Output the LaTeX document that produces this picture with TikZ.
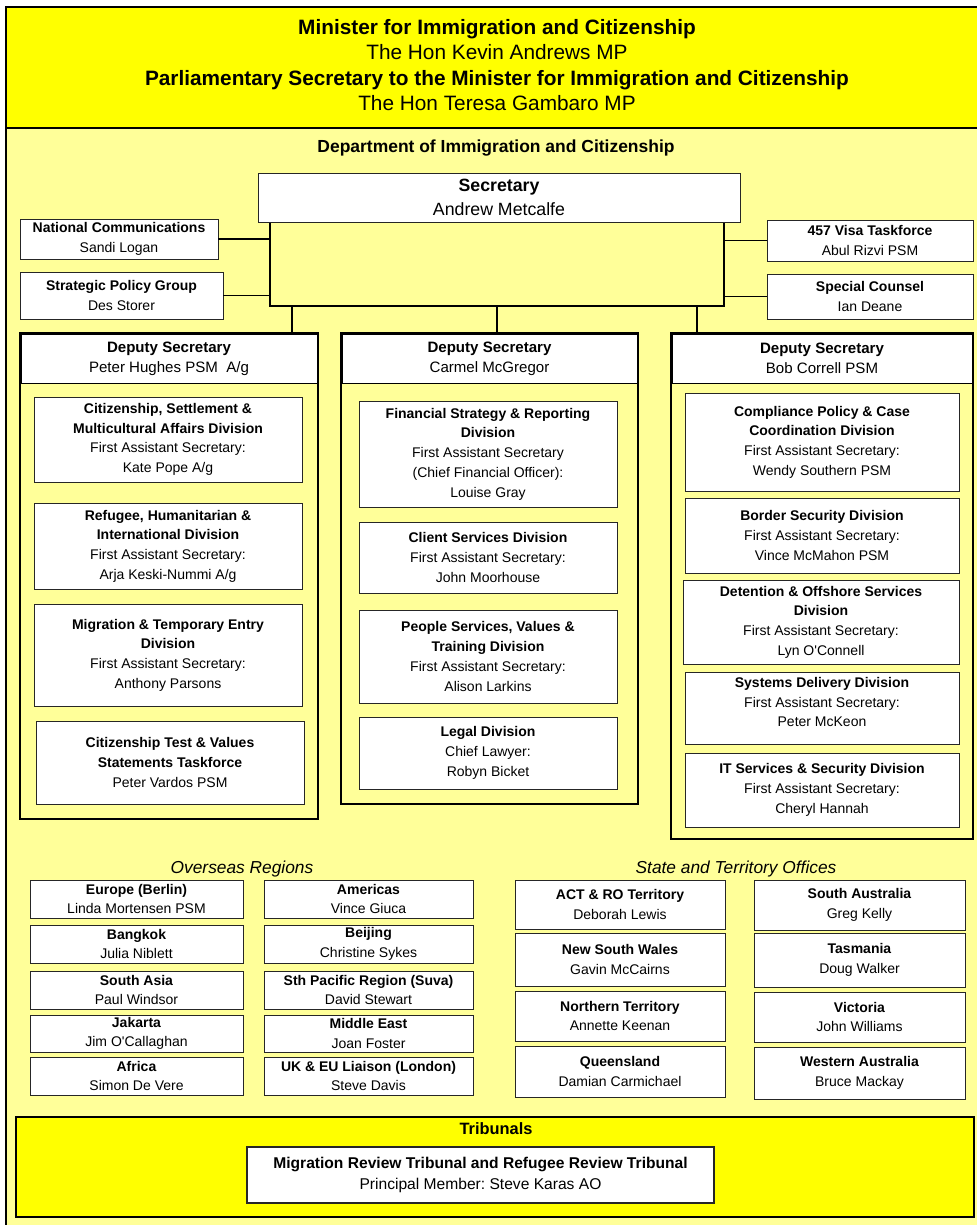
\documentclass[tikz,border=0pt]{standalone}
\usepackage{fontspec}
\setmainfont{Liberation Sans}
\usetikzlibrary{shadows}
\definecolor{hiyellow}{HTML}{FFFF00}
\definecolor{paleyellow}{HTML}{FFFF99}
\frenchspacing

\begin{document}
\begin{tikzpicture}[x=0.75pt, y=-0.75pt,
	every node/.style={inner sep=0pt, outer sep=0pt, align=center},
	dims/.style 2 args={minimum width=#1*0.75pt, minimum height=#2*0.75pt},
	boxshadow/.style={drop shadow={shadow xshift=0.9pt, shadow yshift=-0.9pt, fill=black!55, opacity=1}},
	unitbox/.style={draw=black!85, line width=0.6pt, fill=white, boxshadow, anchor=north west, font=\fontsize{10.5}{14.6}\selectfont},
	divbox/.style={unitbox, font=\fontsize{10.5}{14.8}\selectfont},
	officebox/.style={unitbox, font=\fontsize{10.5}{14.5}\selectfont},
	depframe/.style={draw, line width=1.5pt, fill=paleyellow, anchor=north west},
	dephead/.style={draw, line width=0.6pt, fill=white, anchor=north west, font=\fontsize{11.3}{15}\selectfont},
	link/.style={line width=1.1pt}]
\useasboundingbox (0,0) rectangle (976,1225);

\fill[paleyellow] (6,128) rectangle (990,1240);
\draw[line width=0.8pt] (6,128) -- (6,1240);
\draw[line width=1.5pt, fill=hiyellow] (6,7) rectangle (990,128);

\node[font=\fontsize{15.6}{18.9}\selectfont] (minister) at (497,65)
	{\textbf{Minister for Immigration and Citizenship}\\The Hon Kevin Andrews MP\\
	 \textbf{Parliamentary Secretary to the Minister for Immigration and Citizenship}\\The Hon Teresa Gambaro MP};
\node[font=\bfseries\fontsize{13.1}{16}\selectfont] (dept) at (496,148) {Department of Immigration and Citizenship};

\node[draw, line width=1.1pt, anchor=north west, dims={454}{84}] (hub) at (270,222) {};
\node[unitbox, dims={482}{49}, font=\fontsize{13.3}{17.5}\selectfont] (sec) at (258,173) {\textbf{Secretary}\\Andrew Metcalfe};

\node[unitbox, dims={198}{40}] (ncomm) at (20,219) {\textbf{National Communications}\\Sandi Logan};
\node[unitbox, dims={203}{47}] (spg) at (20,272) {\textbf{Strategic Policy Group}\\Des Storer};
\node[unitbox, dims={206}{41}] (visa) at (767,220) {\textbf{457 Visa Taskforce}\\Abul Rizvi PSM};
\node[unitbox, dims={206}{45}] (counsel) at (767,274) {\textbf{Special Counsel}\\Ian Deane};
\draw[link] (ncomm.east) -- (ncomm.east -| hub.west);
\draw[link] (spg.east) -- (spg.east -| hub.west);
\draw[link] (visa.west) -- (visa.west -| hub.east);
\draw[link] (counsel.west) -- (counsel.west -| hub.east);

\coordinate (drop1) at (292,333);
\coordinate (drop2) at (497,333);
\coordinate (drop3) at (697,333);
\draw[link] (drop1 |- hub.south) -- (drop1);
\draw[link] (drop2 |- hub.south) -- (drop2);
\draw[link] (drop3 |- hub.south) -- (drop3);

\node[depframe, dims={298}{486}] (dep1f) at (20,333) {};
\node[dephead, dims={296}{49}] (dep1) at (21,334) {\textbf{Deputy Secretary}\\Peter Hughes PSM\ \ A/g};
\node[depframe, dims={297}{471}] (dep2f) at (341,333) {};
\node[dephead, dims={295}{49}] (dep2) at (342,334) {\textbf{Deputy Secretary}\\Carmel McGregor};
\node[depframe, dims={302}{506}] (dep3f) at (671,333) {};
\node[dephead, dims={300}{49}] (dep3) at (672,334) {\textbf{Deputy Secretary}\\Bob Correll PSM};

\node[divbox, dims={268}{85}] (csma) at (34,397)
	{\textbf{Citizenship, Settlement \&}\\\textbf{Multicultural Affairs Division}\\First Assistant Secretary:\\Kate Pope A/g};
\node[divbox, dims={268}{86}] (rhi) at (34,503)
	{\textbf{Refugee, Humanitarian \&}\\\textbf{International Division}\\First Assistant Secretary:\\Arja Keski-Nummi A/g};
\node[divbox, dims={268}{102}] (mte) at (34,604)
	{\textbf{Migration \& Temporary Entry}\\\textbf{Division}\\First Assistant Secretary:\\Anthony Parsons};
\node[divbox, dims={268}{83}] (ctest) at (36,721)
	{\textbf{Citizenship Test \& Values}\\\textbf{Statements Taskforce}\\Peter Vardos PSM};

\node[divbox, dims={258}{106}] (fsr) at (359,401)
	{\textbf{Financial Strategy \& Reporting}\\\textbf{Division}\\First Assistant Secretary\\(Chief Financial Officer):\\Louise Gray};
\node[divbox, dims={258}{71}] (csd) at (359,522)
	{\textbf{Client Services Division}\\First Assistant Secretary:\\John Moorhouse};
\node[divbox, dims={258}{93}] (psvt) at (359,610)
	{\textbf{People Services, Values \&}\\\textbf{Training Division}\\First Assistant Secretary:\\Alison Larkins};
\node[divbox, dims={258}{72}] (legal) at (359,717)
	{\textbf{Legal Division}\\Chief Lawyer:\\Robyn Bicket};

\node[divbox, dims={274}{98}] (cpcc) at (685,393)
	{\textbf{Compliance Policy \& Case}\\\textbf{Coordination Division}\\First Assistant Secretary:\\Wendy Southern PSM};
\node[divbox, dims={274}{75}] (border) at (685,498)
	{\textbf{Border Security Division}\\First Assistant Secretary:\\Vince McMahon PSM};
\node[divbox, dims={276}{84}] (detention) at (683,580)
	{\textbf{Detention \& Offshore Services}\\\textbf{Division}\\First Assistant Secretary:\\Lyn O\textquotesingle Connell};
\node[divbox, dims={274}{72}, text depth=9pt] (sysdel) at (685,672)
	{\textbf{Systems Delivery Division}\\First Assistant Secretary:\\Peter McKeon};
\node[divbox, dims={274}{74}] (itss) at (685,753)
	{\textbf{IT Services \& Security Division}\\First Assistant Secretary:\\Cheryl Hannah};

\node[font=\itshape\fontsize{13}{15}\selectfont] (overseas) at (242,869) {Overseas Regions};
\node[font=\itshape\fontsize{13}{15}\selectfont] (states) at (736,869) {State and Territory Offices};

\node[officebox, dims={213}{38}] (europe) at (30,880) {\textbf{Europe (Berlin)}\\Linda Mortensen PSM};
\node[officebox, dims={209}{38}] (americas) at (264,880) {\textbf{Americas}\\Vince Giuca};
\node[officebox, dims={213}{38}] (bangkok) at (30,925) {\textbf{Bangkok}\\Julia Niblett};
\node[officebox, dims={209}{38}] (beijing) at (264,925) {\textbf{Beijing}\\Christine Sykes};
\node[officebox, dims={213}{38}] (sasia) at (30,971) {\textbf{South Asia}\\Paul Windsor};
\node[officebox, dims={209}{38}] (suva) at (264,971) {\textbf{Sth Pacific Region (Suva)}\\David Stewart};
\node[officebox, dims={213}{37}] (jakarta) at (30,1015) {\textbf{Jakarta}\\Jim O\textquotesingle Callaghan};
\node[officebox, dims={209}{37}] (mideast) at (264,1015) {\textbf{Middle East}\\Joan Foster};
\node[officebox, dims={213}{38}] (africa) at (30,1057) {\textbf{Africa}\\Simon De Vere};
\node[officebox, dims={209}{38}] (london) at (264,1057) {\textbf{UK \& EU Liaison (London)}\\Steve Davis};

\node[officebox, dims={210}{49}] (act) at (515,880) {\textbf{ACT \& RO Territory}\\Deborah Lewis};
\node[officebox, dims={211}{50}] (sa) at (754,880) {\textbf{South Australia}\\Greg Kelly};
\node[officebox, dims={210}{53}] (nsw) at (515,933) {\textbf{New South Wales}\\Gavin McCairns};
\node[officebox, dims={211}{54}] (tas) at (754,933) {\textbf{Tasmania}\\Doug Walker};
\node[officebox, dims={210}{50}] (nt) at (515,991) {\textbf{Northern Territory}\\Annette Keenan};
\node[officebox, dims={211}{50}] (vic) at (754,992) {\textbf{Victoria}\\John Williams};
\node[officebox, dims={210}{51}] (qld) at (515,1046) {\textbf{Queensland}\\Damian Carmichael};
\node[officebox, dims={211}{52}] (wa) at (754,1047) {\textbf{Western Australia}\\Bruce Mackay};

\node[draw, line width=1.5pt, fill=hiyellow, boxshadow, anchor=north west, dims={958}{100}] (tribunals) at (16,1117) {};
\node[font=\bfseries\fontsize{12.3}{14}\selectfont] (tribhead) at (496,1129) {Tribunals};
\node[unitbox, line width=1pt, dims={467}{56}, font=\fontsize{11.7}{15.5}\selectfont] (mrt) at (247,1147)
	{\textbf{Migration Review Tribunal and Refugee Review Tribunal}\\Principal Member: Steve Karas AO};
\end{tikzpicture}
\end{document}
